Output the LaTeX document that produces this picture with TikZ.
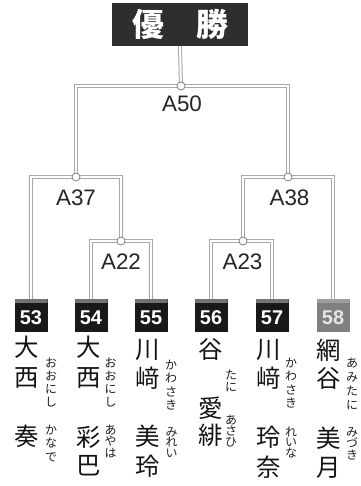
\documentclass[tikz,border=0pt]{standalone}
\usepackage{fontspec}
\setmainfont{Liberation Sans}
\newfontfamily\jp{Noto Sans CJK JP}
\begin{document}
\begin{tikzpicture}[x=1bp,y=-1bp,
  conn/.style={draw=black!34, line width=1bp, double=white, double distance=2bp, line join=miter},
  jn/.style={circle, draw=black!50, fill=white, line width=0.8bp, minimum size=8bp, inner sep=0},
  lbl/.style={font=\fontsize{22.5}{22.5}\selectfont, text=black!85, inner sep=0},
  numbox/.style={minimum width=33bp, minimum height=33bp, inner sep=0, fill=black!90,
    path picture={\fill[black!55] (path picture bounding box.north west) rectangle ([yshift=-4bp]path picture bounding box.north east);}},
  numboxg/.style={numbox, fill=black!50,
    path picture={\fill[black!38] (path picture bounding box.north west) rectangle ([yshift=-4bp]path picture bounding box.north east);}},
  numtxt/.style={font=\fontsize{20}{20}\selectfont\bfseries, text=white, inner sep=0},
  kj/.style={font=\jp\fontsize{24.5}{24.5}\selectfont, text=black!92, inner sep=0, text height=21.5pt, text depth=3pt},
  fg/.style={font=\jp\fontsize{12}{12}\selectfont, text=black!88, inner sep=0, text height=10.5pt, text depth=1.5pt},
  ttl/.style={font=\jp\bfseries\fontsize{32}{32}\selectfont, text=white, inner sep=0, text height=28.2pt, text depth=3.8pt}
]
\useasboundingbox (0,0) rectangle (360,486);
\fill[white] (0,0) rectangle (360,486);

% title
\node[fill=black!82, minimum width=136bp, minimum height=43bp, inner sep=0] (title) at (180,24.5) {};
\node[ttl] (t1) at (148,24.5) {優};
\node[ttl] (t2) at (212.5,24.5) {勝};

% junction points
\coordinate (j50) at (181,86);
\coordinate (j37) at (76,177);
\coordinate (j38) at (288,177);
\coordinate (j22) at (121,241);
\coordinate (j23) at (243,241);

% boxes
\node[numbox] (b53) at (31,315.5) {};
\node[numbox] (b54) at (91,315.5) {};
\node[numbox] (b55) at (151,315.5) {};
\node[numbox] (b56) at (211,315.5) {};
\node[numbox] (b57) at (272,315.5) {};
\node[numboxg] (b58) at (333,315.5) {};
\node[numtxt] (n53) at ([yshift=-2bp]b53.center) {53};
\node[numtxt] (n54) at ([yshift=-2bp]b54.center) {54};
\node[numtxt] (n55) at ([yshift=-2bp]b55.center) {55};
\node[numtxt] (n56) at ([yshift=-2bp]b56.center) {56};
\node[numtxt] (n57) at ([yshift=-2bp]b57.center) {57};
\node[numtxt, text=black!10] (n58) at ([yshift=-2bp]b58.center) {58};

% connectors
\draw[conn] (title.south) -- (j50);
\draw[conn] (j37) |- (j50) -| (j38);
\draw[conn] (b53.north) |- (j37) -| (j22);
\draw[conn] (b54.north) |- (j22) -| (b55.north);
\draw[conn] (b56.north) |- (j23) -| (b57.north);
\draw[conn] (j23) |- (j38) -| (b58.north);

% junction circles
\node[jn] (c50) at (j50) {};
\node[jn] (c37) at (j37) {};
\node[jn] (c38) at (j38) {};
\node[jn] (c22) at (j22) {};
\node[jn] (c23) at (j23) {};

% labels
\node[lbl] (l50) at (182,104) {A50};
\node[lbl] (l37) at (76,197.5) {A37};
\node[lbl] (l38) at (289.5,197.5) {A38};
\node[lbl] (l22) at (121,262) {A22};
\node[lbl] (l23) at (242.5,262) {A23};

% names
\node[kj] (k53a) at (27,347) {大};
\node[kj] (k53b) at (27,377) {西};
\node[kj] (k53c) at (27,436) {奏};
\foreach \c [count=\i] in {お,お,に,し} \node[fg] (f53a\i) at (51,{363+13*(\i-1)}) {\c};
\foreach \c [count=\i] in {か,な,で} \node[fg] (f53b\i) at (51,{430+13.5*(\i-1)}) {\c};

\node[kj] (k54a) at (89,347) {大};
\node[kj] (k54b) at (89,377) {西};
\node[kj] (k54c) at (89,437) {彩};
\node[kj] (k54d) at (89,465) {巴};
\foreach \c [count=\i] in {お,お,に,し} \node[fg] (f54a\i) at (110.5,{363+13*(\i-1)}) {\c};
\foreach \c [count=\i] in {あ,や,は} \node[fg] (f54b\i) at (110.5,{430+11.5*(\i-1)}) {\c};

\node[kj] (k55a) at (148,349) {川};
\node[kj] (k55b) at (148,378) {﨑};
\node[kj] (k55c) at (148,436) {美};
\node[kj] (k55d) at (148,466) {玲};
\foreach \c [count=\i] in {か,わ,さ,き} \node[fg] (f55a\i) at (171,{365+13.3*(\i-1)}) {\c};
\foreach \c [count=\i] in {み,れ,い} \node[fg] (f55b\i) at (171.5,{432+10.5*(\i-1)}) {\c};

\node[kj] (k56a) at (211,349) {谷};
\node[kj] (k56b) at (211,408) {愛};
\node[kj] (k56c) at (211,435) {緋};
\foreach \c [count=\i] in {た,に} \node[fg] (f56a\i) at (231,{375+12*(\i-1)}) {\c};
\foreach \c [count=\i] in {あ,さ,ひ} \node[fg] (f56b\i) at (231,{420+11*(\i-1)}) {\c};

\node[kj] (k57a) at (269,349) {川};
\node[kj] (k57b) at (269,378) {﨑};
\node[kj] (k57c) at (269,437) {玲};
\node[kj] (k57d) at (269,467) {奈};
\foreach \c [count=\i] in {か,わ,さ,き} \node[fg] (f57a\i) at (291,{363+13.3*(\i-1)}) {\c};
\foreach \c [count=\i] in {れ,い,な} \node[fg] (f57b\i) at (291,{432+10.5*(\i-1)}) {\c};

\node[kj] (k58a) at (329,350) {網};
\node[kj] (k58b) at (329,378) {谷};
\node[kj] (k58c) at (329,438) {美};
\node[kj] (k58d) at (329,467) {月};
\foreach \c [count=\i] in {あ,み,た,に} \node[fg] (f58a\i) at (352,{363+14*(\i-1)}) {\c};
\foreach \c [count=\i] in {み,づ,き} \node[fg] (f58b\i) at (352,{432+11.5*(\i-1)}) {\c};
\end{tikzpicture}
\end{document}
